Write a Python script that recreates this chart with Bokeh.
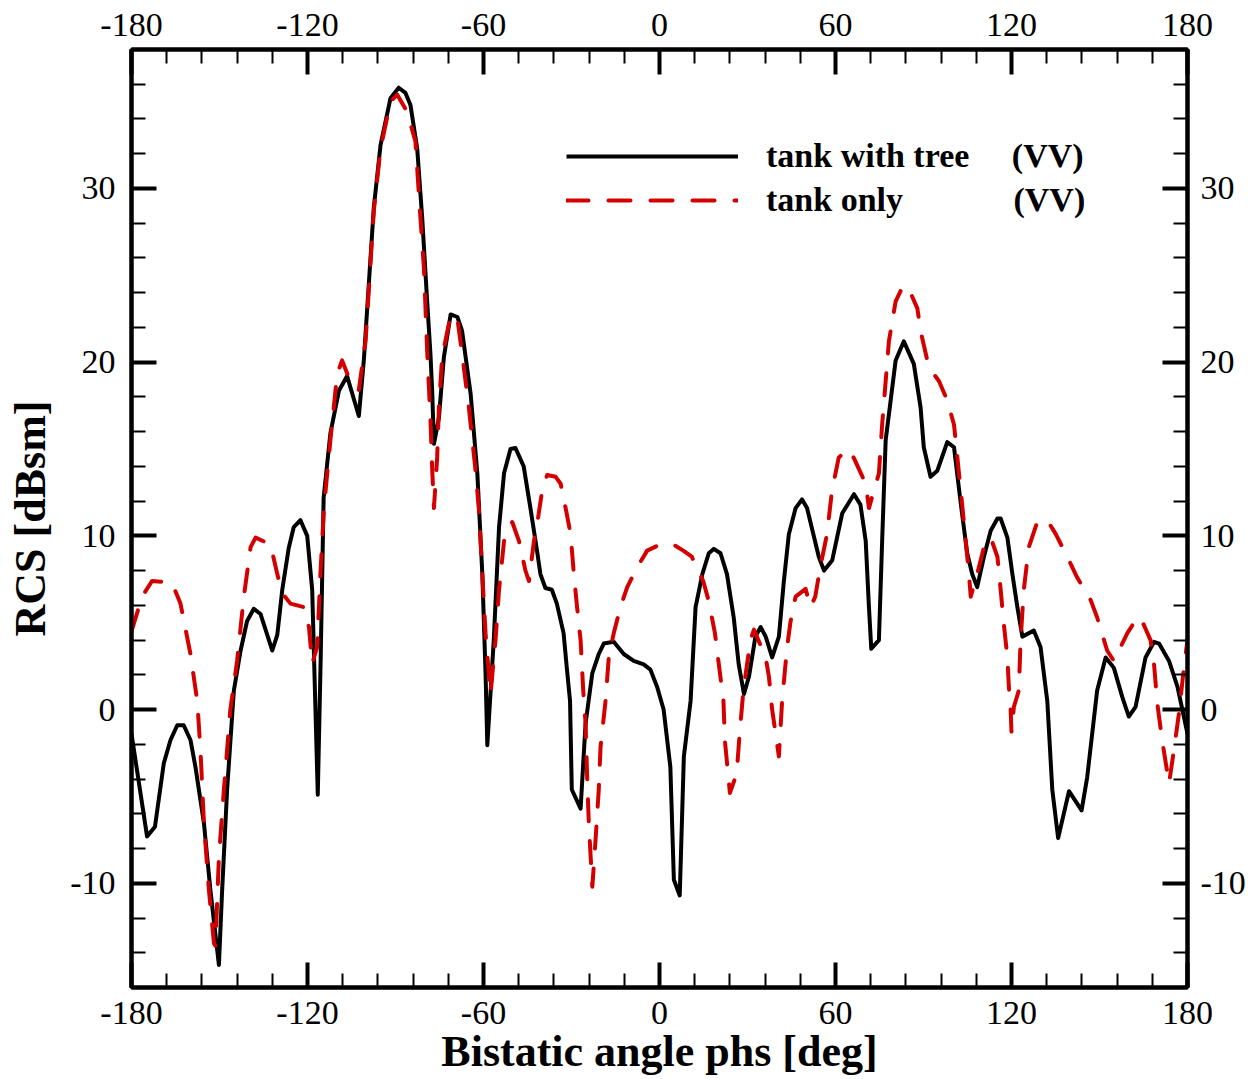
from bokeh.plotting import figure
from bokeh.models import Range1d, LinearAxis, FixedTicker, Legend, LegendItem
from bokeh.embed import file_html
from bokeh.resources import INLINE

# ---- data ----
x_major = [-180, -120, -60, 0, 60, 120, 180]
x_minor = list(range(-180, 181, 12))
y_major = [-10, 0, 10, 20, 30]
y_minor = list(range(-16, 39, 2))

tree_x = [-180, -174.7, -172, -169, -166.7, -164.4, -162.2, -159.9, -158.2, -155.3, -153.1,
          -150.2, -149.1, -147.4, -145.1, -142.8, -140.6, -138.3, -136.0, -132.0, -130.3,
          -128.6, -126.4, -124.7, -122.4, -120.1, -118.4, -116.5, -115.5, -114.5, -112.2,
          -109.3, -106.5, -102.5, -100.8, -97.4, -95.1, -91.7, -88.9, -86.6, -84.9, -82.6,
          -80.9, -79.2, -78.1, -77.5, -76.9, -75.2, -73.5, -71.2, -68.9, -67.3, -64.4, -62.1,
          -60.4, -59.3, -58.7, -56.5, -54.7, -53.0, -50.8, -49.1, -46.3, -44.0, -41.8, -40.6,
          -38.9, -36.7, -35.0, -32.7, -31.6, -30.5, -29.9, -26.9, -25.2, -22.9, -20.7, -19.0,
          -15.6, -12.2, -8.8, -5.4, -3.1, -0.8, 1.4, 3.7, 4.9, 6.9, 8.3, 10.6, 12.3, 14.6,
          16.8, 18.5, 20.8, 23.0, 25.3, 27.0, 28.8, 30.5, 32.7, 34.5, 36.2, 38.4, 40.7, 42.4,
          44.1, 46.4, 48.6, 50.3, 54.3, 56.1, 58.9, 62.3, 66.3, 68.5, 70.3, 71.4, 72.2, 74.8,
          75.9, 77.1, 78.8, 80.5, 83.3, 86.7, 89.0, 90.1, 92.4, 94.7, 98.1, 100.4, 102.6,
          104.9, 106.6, 108.3, 110.6, 112.9, 115.2, 116.3, 118.6, 120.3, 122.0, 123.7, 127.6,
          129.9, 132.2, 133.9, 135.9, 139.6, 143.9, 145.8, 149.2, 152.1, 154.9, 157.8, 160.0,
          162.3, 165.7, 168.6, 170.3, 173.7, 176.6, 180]
tree_y = [-1.4, -7.3, -6.75, -3.1, -1.75, -0.9, -0.9, -1.75, -3.3, -6.55, -10.4,
          -14.7, -10.4, -4.6, 1.1, 3.4, 5.1, 5.8, 5.5, 3.4, 4.3,
          6.9, 9.3, 10.5, 10.9, 10.0, 6.9, -4.9, 3.0, 12.2, 15.9,
          18.35, 19.2, 16.9, 20.1, 28.9, 32.5, 35.2, 35.8, 35.5, 34.8, 32.3,
          28.3, 23.5, 20.5, 18.35, 15.3, 16.8, 20.3, 22.75, 22.6, 21.8, 18.2, 13.6,
          7.8, 2.1, -2.05, 4.0, 10.5, 13.6, 15.0, 15.06, 14.0, 11.6, 9.2, 7.8,
          7.0, 6.9, 6.1, 4.4, 2.4, 0.5, -4.6, -5.7, -0.8, 2.1, 3.2, 3.8,
          3.9, 3.2, 2.8, 2.6, 2.3, 1.3, 0.0, -3.3, -9.8, -10.7, -2.7, 0.5, 5.9, 7.8,
          9.0, 9.25, 9.0, 7.8, 5.3, 2.6, 0.9, 1.9, 4.2, 4.75, 4.2, 3.0, 4.2, 7.4,
          10.1, 11.6, 12.1, 11.6, 8.8, 8.0, 8.6, 11.3, 12.4, 11.8, 9.7, 5.9, 3.5, 4.0,
          9.7, 15.5, 17.8, 20.1, 21.2, 19.9, 17.4, 15.1, 13.4, 13.75, 15.4, 15.1, 12.0,
          9.0, 7.8, 7.05, 8.8, 10.3, 11.0, 11.0, 9.9, 7.8, 5.9, 4.2, 4.55,
          3.6, 0.5, -4.6, -7.4, -4.7, -5.8, -3.9, 1.1, 3.0, 2.4, 0.7, -0.4,
          0.15, 3.0, 3.9, 3.8, 2.8, 1.3, -1.4]

only_x = [-180, -176.4, -173, -166.2, -163.3, -159.9, -157.6, -156.5, -155.3, -153.6, -151.9,
          -151.4, -150.2, -148.5, -146.3, -144.0, -141.7, -139.4, -137.7, -132.6, -130.3,
          -128.6, -125.8, -121.3, -119.5, -118.4, -116.7, -115.6, -114.4, -112.2, -109.9,
          -108.2, -105.4, -102.5, -100.2, -97.4, -95.1, -91.7, -89.4, -86.0, -83.2, -81.5,
          -80.3, -79.2, -78.1, -77.5, -76.9, -75.8, -75.2, -74.1, -71.2, -68.9, -67.3, -65.0,
          -62.8, -61.6, -60.4, -59.3, -58.2, -57.6, -55.9, -54.7, -53.0, -50.2, -47.9, -45.7,
          -44.5, -42.8, -41.7, -40.0, -38.3, -35.4, -33.7, -32.0, -30.3, -29.2, -28.1, -26.9,
          -26.0, -25.2, -24.7, -24.1, -22.9, -21.8, -20.7, -20.1, -18.4, -17.3, -15.6, -13.3,
          -11.0, -7.6, -4.2, 0.2, 4.7, 8.1, 11.0, 14.9, 16.7, 18.9, 20.6, 21.8, 22.3, 24.0,
          26.3, 27.4, 28.6, 31.0, 32.2, 36.2, 37.3, 38.4, 40.7, 41.8, 43.5, 44.7, 46.4, 49.8,
          51.5, 53.1, 54.8, 57.1, 58.8, 61.1, 63.9, 66.2, 70.3, 71.4, 74.8, 75.9, 77.1, 78.2,
          80.5, 82.2, 84.5, 87.9, 89.0, 91.3, 93.6, 95.3, 98.1, 100.4, 102.1, 103.3, 104.4,
          105.5, 106.1, 108.3, 110.6, 112.9, 115.2, 116.3, 117.4, 118.6, 119.1, 119.7, 120.0,
          120.8, 122.5, 123.1, 124.2, 125.9, 128.8, 132.2, 135.1, 139.0, 142.4, 147.0, 149.2,
          152.6, 154.9, 159.5, 162.9, 164.0, 167.4, 168.6, 169.7, 171.4, 173.7, 175.4, 177.1,
          178.8, 180]
only_y = [4.5, 6.5, 7.4, 7.3, 6.1, 3.2, 0.5, -2.3, -6.55, -10.4, -13.45,
          -13.6, -8.5, -4.6, 0.0, 2.8, 6.5, 9.35, 9.9, 9.5, 7.8,
          6.7, 6.1, 5.9, 4.75, 2.65, 3.6, 7.8, 11.6, 15.5, 19.3,
          20.1, 18.9, 18.4, 21.2, 28.7, 32.3, 35.0, 35.4, 34.4, 32.7, 28.3,
          25.4, 20.6, 16.8, 13.9, 11.6, 14.5, 17.4, 20.3, 22.7, 22.5, 20.5, 17.4,
          13.9, 11.6, 7.8, 4.4, 2.1, 0.9, 4.0, 6.9, 9.7, 10.8, 9.7, 8.0,
          7.4, 9.7, 10.7, 12.6, 13.5, 13.4, 13.0, 11.6, 10.1, 7.8, 5.9, 4.0,
          1.1, -0.8, -3.7, -6.55, -10.2, -7.5, -4.6, -2.15, 0.5, 3.0, 4.4, 5.9,
          7.05, 8.2, 9.15, 9.5, 9.5, 9.15, 8.8, 7.4, 6.3, 4.4, 2.1, 0.5, -1.8, -4.8,
          -3.7, -1.2, 1.1, 4.0, 4.6, 3.0, 1.9, 0.0, -2.7, 0.5, 3.6, 5.1, 6.5, 6.95,
          5.9, 6.5, 8.2, 10.1, 12.6, 14.5, 15.0, 14.5, 13.0, 11.6, 13.6, 16.4, 18.9, 21.2,
          23.5, 24.1, 24.4, 23.1, 21.8, 20.1, 19.3, 18.9, 17.8, 16.4, 13.6, 11.6, 9.7,
          7.8, 6.5, 7.8, 9.35, 9.9, 8.8, 6.9, 4.9, 3.0, 1.3, 0.0, -1.3,
          0.15, 1.1, 4.0, 6.9, 9.35, 10.8, 10.9, 10.1, 8.8, 7.6, 6.3, 5.3,
          3.4, 2.8, 4.4, 5.3, 5.3, 4.0, 2.6, 0.35, -1.8, -4.25, -2.3, -0.2,
          2.45, 4.0]

label_tree = "tank with tree" + "\u00a0" * 5 + "(VV)"
label_only = "tank only" + "\u00a0" * 13 + "(VV)"
x_title = "Bistatic angle phs [deg]"
y_title = "RCS [dBsm]"

SERIF = "Liberation Serif"
RED = "#D40000"

p = figure(width=1258, height=1079, output_backend="svg", toolbar_location=None,
           x_range=Range1d(-180, 180), y_range=Range1d(-16, 38),
           x_axis_type=None, y_axis_type=None,
           min_border_left=131, min_border_right=71, min_border_top=49,
           min_border_bottom=92, background_fill_color="white",
           border_fill_color="white")
p.grid.visible = False
p.outline_line_color = "black"
p.outline_line_width = 4

x_labels = {t: str(t) for t in x_major}
y_labels = {t: str(t) for t in y_major}

bottom_axis = LinearAxis(ticker=FixedTicker(ticks=x_major, minor_ticks=x_minor),
                         major_label_overrides=x_labels)
top_axis = LinearAxis(ticker=FixedTicker(ticks=x_major, minor_ticks=x_minor),
                      major_label_overrides=x_labels)
left_axis = LinearAxis(ticker=FixedTicker(ticks=y_major, minor_ticks=y_minor),
                       major_label_overrides=y_labels)
right_axis = LinearAxis(ticker=FixedTicker(ticks=y_major, minor_ticks=y_minor),
                        major_label_overrides=y_labels)
p.add_layout(bottom_axis, "below")
p.add_layout(top_axis, "above")
p.add_layout(left_axis, "left")
p.add_layout(right_axis, "right")

for ax in [bottom_axis, top_axis, left_axis, right_axis]:
    ax.axis_line_width = 4
    ax.axis_line_color = "black"
    ax.major_tick_in = 25
    ax.major_tick_out = 0
    ax.minor_tick_in = 14
    ax.minor_tick_out = 0
    ax.major_tick_line_width = 4
    ax.minor_tick_line_width = 2
    ax.major_tick_line_color = "black"
    ax.minor_tick_line_color = "black"
    ax.major_label_text_font = SERIF
    ax.major_label_text_font_size = "34px"
    ax.major_label_text_color = "black"

bottom_axis.major_label_standoff = 14
top_axis.major_label_standoff = 14
left_axis.major_label_standoff = 16
right_axis.major_label_standoff = 13

bottom_axis.axis_label = x_title
left_axis.axis_label = y_title
for ax in [bottom_axis, left_axis]:
    ax.axis_label_text_font = SERIF
    ax.axis_label_text_font_style = "bold"
    ax.axis_label_text_font_size = "44px"
    ax.axis_label_text_color = "black"
bottom_axis.axis_label_standoff = 0
left_axis.axis_label_standoff = 12

r_tree = p.line(tree_x, tree_y, line_color="black", line_width=4, line_join="round")
r_only = p.line(only_x, only_y, line_color=RED, line_width=4, line_dash="22 20",
                line_cap="round", line_join="round")

legend = Legend(items=[LegendItem(label=label_tree, renderers=[r_tree]),
                       LegendItem(label=label_only, renderers=[r_only])],
                location=(435, 767), orientation="vertical",
                glyph_width=172, glyph_height=40, label_height=40,
                label_standoff=28, spacing=4, padding=0, margin=0,
                border_line_color=None, background_fill_alpha=0,
                label_text_font=SERIF, label_text_font_style="bold",
                label_text_font_size="34px", label_text_color="black",
                label_text_baseline="middle")
p.add_layout(legend, "center")

open("out.html", "w").write(file_html(p, INLINE))
